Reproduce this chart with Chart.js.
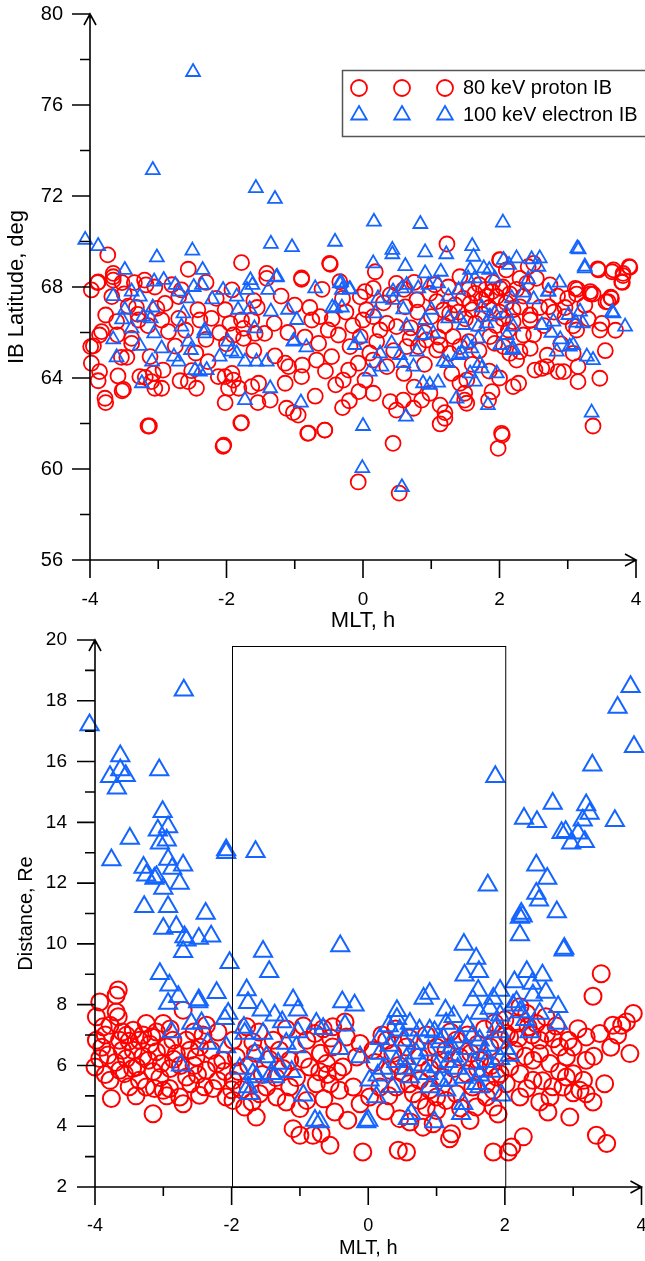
<!DOCTYPE html>
<html>
<head>
<meta charset="utf-8">
<script src="https://cdn.jsdelivr.net/npm/chart.js@4.4.1/dist/chart.umd.min.js"></script>
<style>
  html, body { margin: 0; padding: 0; background: #fff; }
  #topBox { position: absolute; left: 0; top: 0; width: 645px; height: 635px; }
  #bottomBox { position: absolute; left: 0; top: 605px; width: 645px; height: 656px; }
</style>
</head>
<body>
<div id="topBox"><canvas id="latChart"></canvas></div>
<div id="bottomBox"><canvas id="distChart"></canvas></div>
<script>
// Series labels
const seriesNames = ['80 keV proton IB', '100 keV electron IB'];

// Top panel: [MLT h, IB latitude deg]
const latProton = [
  [-3.74,69.41],[-3.98,67.87],[-3.89,68.19],[-3.66,68.6],[-3.66,68.45],[-3.53,68.19],[-3.35,68.19],[-3.18,68.09],
  [-2.56,68.78],[-1.78,69.07],[-1.41,68.6],[-1.41,68.38],[-0.9,68.34],[-0.49,69.04],[-0.34,68.23],[-0.04,67.57],
  [-3.77,66.77],[-3.68,67.58],[-3.61,66.48],[-3.44,67.16],[-3.32,67.1],[-3.29,66.55],[-3.02,67.06],[-2.9,67.28],
  [-2.95,66.55],[-2.7,66.62],[-2.7,67.58],[-2.66,67.87],[-2.42,67.0],[-2.39,66.55],[-2.22,66.62],[-1.92,67.87],
  [-2.02,67.0],[-1.95,66.4],[-1.78,66.55],[-1.75,66.18],[-1.63,66.55],[-1.44,65.96],[-1.29,64.97],[-1.14,64.65],
  [-1.09,64.5],[-0.89,64.57],[-0.68,64.79],[-0.46,64.94],[-0.29,63.91],[-0.21,64.35],[-0.07,64.65],[-0.06,63.4],
  [-0.04,65.82],[-0.19,65.38],[-0.36,65.89],[-0.51,66.11],[-0.63,66.7],[-0.78,67.1],[-0.75,66.55],[-0.65,65.52],
  [-0.9,64.06],[-1.14,63.77],[-1.36,63.03],[-1.54,62.92],[-2.02,62.92],[-1.92,64.2],[-1.9,63.91],[-1.97,63.55],
  [-1.82,63.55],[-1.63,63.62],[-1.53,63.77],[-1.78,62.04],[-1.12,62.67],[-1.02,62.48],[-0.95,62.37],[-0.81,61.57],
  [-0.56,61.71],[-2.04,61.05],[-3.15,61.89],[-3.78,63.11],[-3.77,62.92],[-3.88,63.88],[-3.86,64.28],[-3.98,64.65],
  [-3.99,65.38],[-3.86,65.89],[-3.83,66.04],[-3.95,65.41],[-3.59,64.09],[-3.51,63.5],[-3.53,63.44],[-3.54,64.91],
  [-3.46,64.91],[-3.19,64.03],[-3.27,64.06],[-3.1,63.84],[-3.05,63.55],[-2.95,63.55],[-2.93,64.35],[-3.07,64.2],
  [-2.68,63.88],[-2.56,63.84],[-2.44,63.55],[-2.51,64.32],[-2.27,64.72],[-2.85,66.04],[-3.12,64.94],[-3.39,65.74],
  [-3.39,65.52],[-2.02,64.06],[-2.12,64.06],[-2.1,65.99],[-1.9,65.89],[-1.58,65.96],[-1.75,65.74],
  [-3.88,68.22],[-3.66,68.3],[-3.2,68.3],[-3.05,68.0],[-2.8,68.1],[-2.3,68.2],[-2.15,67.5],[-1.6,67.4],
  [-1.2,67.6],[-1.0,67.2],[-0.6,67.9],[-0.3,67.5],[-0.9,68.4],[-3.5,67.7],[-3.3,66.8],[-3.15,66.3],
  [-2.6,66.1],[-2.3,65.7],[-2.0,65.5],[-1.3,66.4],[-1.1,66.0],[-0.85,65.8],[-1.6,65.2],[-2.45,65.1],
  [-2.75,65.4],[-3.6,65.9],[-1.55,67.1],[-0.45,66.6],[-0.25,66.9],
  [1.23,69.89],[0.18,68.67],[2.01,69.19],[2.42,68.89],[2.5,69.04],[3.45,68.75],[3.67,68.75],[3.91,68.86],
  [3.79,68.23],[3.81,68.6],[1.42,68.45],[2.1,68.75],[2.3,68.38],[2.4,68.16],[2.54,68.38],[2.74,68.09],
  [3.11,67.94],[3.13,67.69],[3.33,67.8],[3.37,67.69],[3.59,67.36],[3.64,67.5],[3.47,66.11],[3.13,66.11],
  [3.08,66.29],[2.96,67.1],[2.96,66.7],[2.72,67.13],[2.59,67.1],[2.45,66.55],[2.45,66.77],[2.3,67.13],
  [2.01,67.94],[1.96,67.58],[1.89,67.8],[1.81,67.58],[1.74,67.43],[1.64,67.72],[1.57,67.28],[1.47,67.5],
  [1.35,67.21],[1.27,66.84],[1.18,66.99],[1.08,67.36],[0.98,67.72],[0.79,67.43],[0.62,67.13],[0.4,67.65],
  [0.49,68.16],[0.15,67.94],[0.03,67.8],[0.05,67.0],[0.0,66.55],[0.15,66.7],[0.25,66.11],[0.35,66.4],
  [0.49,66.26],[0.69,65.74],[0.64,65.38],[0.81,65.38],[0.93,65.67],[1.13,65.45],[1.08,65.23],[1.27,65.08],
  [1.42,65.38],[1.32,65.82],[1.86,65.82],[1.93,65.52],[2.06,65.38],[2.15,65.08],[2.25,64.79],[2.3,65.16],
  [2.45,65.3],[2.35,65.89],[2.13,66.11],[2.2,66.48],[2.52,64.35],[2.62,64.42],[2.69,64.5],[2.86,64.28],
  [2.94,64.28],[3.15,64.5],[3.15,63.84],[3.47,63.99],[3.08,65.08],[0.15,64.79],[0.03,63.91],[0.15,63.33],
  [0.49,62.59],[0.74,62.67],[1.2,62.48],[1.2,62.23],[1.13,61.98],[0.4,62.96],[0.59,63.03],[0.86,63.03],
  [0.98,63.33],[1.42,63.77],[1.49,63.03],[1.52,62.89],[1.84,63.03],[1.89,63.4],[2.2,63.62],[2.28,63.77],
  [0.44,61.13],[2.03,61.57],[1.98,60.91],[1.52,63.91],[1.13,62.81],[1.49,63.33],
  [-0.48,69.0],[3.44,68.8],[3.65,68.67],[3.9,68.9],[3.8,68.2],[3.81,68.5],[3.14,67.9],[3.33,67.7],
  [3.56,67.35],[3.63,67.55],[2.0,69.2],
  [-0.07,59.43],[0.53,58.94],[2.04,61.49],[3.37,61.89],[-0.56,61.71],[-3.13,61.89],[-2.05,61.0],[-1.79,62.02],
  [-0.8,61.58],
  [1.55,67.9],[1.7,68.1],[1.8,67.9],[1.9,68.2],[2.05,68.0],[2.15,67.7],[2.25,67.9],[2.35,67.6],
  [1.6,67.0],[1.75,66.8],[1.85,67.1],[2.0,66.9],[2.1,67.3],[2.2,67.0],[1.4,66.9],[1.5,66.6],
  [1.65,66.4],[1.95,66.3],[2.05,66.6],[1.2,66.3],[1.0,66.7],[0.8,66.9],[0.7,66.2],[0.9,66.0],
  [1.1,65.8],[1.55,65.6],[1.7,65.2],[2.5,65.9],[2.65,66.3],[2.8,66.9],[2.85,67.6],[3.0,67.5],
  [3.25,67.2],[3.3,66.6],[3.5,66.4],[3.7,66.1],[3.55,65.2],[2.9,65.5],[2.7,65.0],[0.3,67.3],
  [0.6,67.9],[0.75,68.2],[1.05,68.1],[1.25,68.0],[0.2,65.6],[0.45,65.2],[0.1,65.1],[-0.15,66.3],
  [0.35,64.5],[0.6,64.2],[0.9,64.6],[1.3,64.2],[1.6,64.6],[1.85,64.3],[2.0,64.0],[0.75,63.6],
  [-0.2,63.0],[-0.4,63.7],[-0.55,64.3],[-0.7,63.2],[-0.3,62.7]
];

const latElectron = [
  [-4.25,69.98],[-4.07,70.07],[-3.88,69.8],[-4.2,68.2],[-2.49,77.45],[-3.08,73.14],[-1.57,72.35],[-1.29,71.87],
  [-3.02,69.3],[-2.5,69.6],[-2.35,68.75],[-3.49,68.75],[-1.35,69.9],[-1.04,69.75],[-1.26,68.45],[-0.41,69.99],
  [-3.66,67.6],[-3.06,68.24],[-2.92,68.31],[-3.39,67.8],[-3.27,67.58],[-2.75,68.09],[-2.48,68.0],[-2.36,68.09],
  [-2.7,67.8],[-2.57,67.5],[-2.21,67.46],[-2.05,67.87],[-1.85,67.58],[-1.65,68.3],[-1.62,68.09],[-1.7,67.87],
  [-1.39,67.87],[-1.27,68.42],[-0.7,67.94],[-0.34,68.16],[-0.19,67.9],[-0.31,67.1],[-0.41,67.06],[-3.49,67.0],
  [-3.08,67.1],[-3.53,66.58],[-3.39,66.18],[-3.22,66.7],[-3.11,66.62],[-3.06,65.96],[-2.63,66.84],[-2.66,66.26],
  [-2.7,64.72],[-2.33,65.96],[-2.32,66.1],[-2.56,65.6],[-2.52,65.23],[-2.46,64.35],[-2.39,64.28],[-2.29,64.35],
  [-3.66,65.7],[-3.61,64.91],[-3.27,65.41],[-3.24,63.77],[-2.95,65.3],[-3.09,64.72],[-2.77,64.94],[-2.1,64.94],
  [-1.98,65.6],[-1.93,65.16],[-1.85,65.08],[-1.73,64.72],[-1.56,64.72],[-1.41,64.72],[-1.83,67.0],[-1.66,67.02],
  [-1.59,66.18],[-1.35,66.92],[-1.1,67.0],[-0.97,66.55],[-1.01,65.64],[-1.02,65.6],[-0.83,65.35],[-1.36,63.55],
  [-1.73,63.03],[-0.91,62.92],[-0.12,65.45],[-0.45,67.1],[-0.31,67.87],[0.0,61.89],
  [0.16,70.87],[0.84,70.77],[2.05,70.83],[0.43,69.63],[0.43,69.44],[0.91,69.52],[1.22,69.44],[1.6,69.8],
  [1.62,69.33],[3.16,69.66],[0.15,69.04],[0.62,68.92],[2.06,69.19],[2.25,69.26],[2.47,69.22],[2.59,69.26],
  [2.57,68.89],[1.77,68.82],[1.85,68.75],[2.14,68.97],[0.91,68.6],[1.14,68.67],[1.57,68.75],[3.25,68.82],
  [2.88,68.19],[1.1,68.16],[0.44,67.8],[0.57,67.94],[0.64,68.09],[0.81,67.94],[0.96,68.09],[1.54,68.38],
  [1.64,68.38],[1.93,68.38],[2.42,68.34],[2.72,67.8],[0.22,67.5],[0.44,67.43],[1.25,67.58],[1.4,67.87],
  [2.18,67.5],[2.35,67.75],[2.5,67.46],[0.18,66.84],[0.59,67.02],[1.0,67.0],[1.25,66.62],[1.42,66.62],
  [1.74,67.1],[1.93,66.84],[2.1,66.84],[3.01,66.77],[3.18,66.92],[3.67,66.84],[3.84,66.26],[2.79,66.48],
  [2.62,66.33],[3.12,66.43],[3.22,66.4],[2.76,65.99],[0.64,66.29],[0.91,66.55],[1.03,65.96],[0.86,65.89],
  [1.47,66.33],[1.69,66.26],[1.81,66.4],[1.86,66.7],[2.2,66.26],[2.11,65.89],[1.52,65.52],[1.69,65.74],
  [1.59,65.3],[1.4,65.01],[1.45,65.08],[2.01,65.45],[2.18,65.23],[2.2,65.3],[2.84,65.16],[2.89,65.7],
  [3.03,65.38],[3.08,65.45],[3.28,64.94],[3.37,64.79],[0.25,65.08],[0.42,65.52],[0.54,65.01],[0.59,64.65],
  [0.74,64.5],[0.79,65.16],[1.24,64.65],[1.18,64.72],[1.71,64.65],[1.74,64.42],[1.96,64.2],[1.57,64.2],
  [1.64,63.84],[0.1,64.28],[0.27,64.5],[-0.04,65.74],[0.88,63.77],[0.98,63.7],[1.1,63.8],[1.37,63.1],
  [1.83,62.81],[0.63,62.3],[3.35,62.48],
  [-0.32,68.2],[-0.2,67.9],[3.65,66.9],[2.71,67.8],[3.14,69.7],[3.25,68.9],
  [-0.01,60.04],[0.57,59.2]
];

// Bottom panel: [MLT h, distance Re]
const distProton = [
  [-3.93,8.09],[-3.66,8.48],[-3.69,8.31],[-3.98,7.6],[-3.78,7.32],[-3.69,7.76],[-3.66,7.6],[-2.71,7.82],
  [-4.0,5.95],[-3.93,6.23],[-3.81,6.34],[-3.78,5.51],[-3.76,4.91],[-3.15,4.41],[-3.64,6.83],[-3.54,6.99],
  [-3.44,7.16],[-3.35,6.83],[-3.25,7.38],[-3.17,6.94],[-3.1,7.1],[-3.0,7.38],[-3.44,6.5],[-3.54,6.23],
  [-3.64,5.84],[-3.57,5.73],[-3.39,5.95],[-3.35,5.51],[-3.25,5.29],[-3.13,5.24],[-3.0,5.18],[-2.91,5.24],
  [-2.76,4.96],[-2.71,4.74],[-2.47,5.02],[-2.27,5.24],[-3.22,6.17],[-3.1,6.45],[-3.03,6.06],[-2.95,6.61],
  [-2.81,6.39],[-2.66,6.83],[-2.61,6.5],[-2.52,6.28],[-2.47,6.61],[-2.37,5.84],[-2.37,7.32],[-2.22,6.06],
  [-2.13,6.17],[-2.08,4.96],[-1.98,4.85],[-1.98,5.51],[-1.93,6.28],[-1.81,4.63],[-1.64,4.3],[-1.59,5.07],
  [-1.49,5.29],[-1.34,4.96],[-1.15,5.29],[-1.1,3.92],[-1.0,3.7],[-0.81,3.7],[-1.0,4.58],[-0.9,4.85],
  [-1.3,6.5],[-1.39,6.83],[-1.69,6.77],[-1.78,7.27],[-1.98,6.83],[-1.15,6.17],[-0.9,6.83],[-0.86,5.95],
  [-0.76,5.4],[-0.78,7.05],[-3.98,6.83],[-3.88,7.27],[-2.66,5.62],[-2.42,7.0],[-2.86,6.83],
  [-3.9,6.6],[-3.85,5.7],[-3.7,6.1],[-3.6,6.5],[-3.5,6.8],[-3.45,5.9],[-3.3,6.3],[-3.2,6.7],
  [-3.15,5.8],[-3.05,5.6],[-2.9,5.9],[-2.85,6.2],[-2.75,6.0],[-2.6,5.4],[-2.55,6.0],[-2.5,5.7],
  [-2.3,6.5],[-2.2,5.5],[-2.1,5.8],[-1.9,5.8],[-1.85,5.2],[-1.75,6.0],[-1.65,6.4],[-1.55,5.7],
  [-1.45,6.2],[-1.35,5.6],[-1.25,5.9],[-1.2,4.8],[-1.05,5.6],[-0.95,6.2],[-0.7,6.4],[-0.6,5.7],
  [-0.55,6.9],[-0.65,4.9],[-3.3,7.0],[-3.6,7.1],[-3.85,7.0],[-2.9,7.2],[-2.55,7.1],[-2.2,7.1],
  [-1.6,7.1],[-1.2,7.2],[-0.95,7.3],[-3.5,5.3],[-3.4,5.0],[-2.95,5.0],[-2.4,5.3],[-2.0,5.2],[-1.7,4.8],
  [3.41,9.02],[3.29,8.28],[3.88,7.71],[3.78,7.43],[3.71,7.32],[3.83,6.39],[3.58,7.32],[3.39,7.05],
  [3.07,7.21],[3.19,6.94],[2.93,6.83],[2.8,6.61],[2.71,6.88],[2.51,6.83],[2.34,7.27],[2.22,7.93],
  [2.32,7.71],[2.46,7.38],[2.17,7.38],[2.07,6.94],[2.14,6.5],[2.41,6.17],[2.66,6.06],[2.8,5.79],
  [2.9,5.62],[3.0,5.73],[3.15,5.51],[3.1,5.18],[3.29,4.8],[3.46,5.4],[3.19,5.07],[2.85,5.29],
  [2.66,4.96],[2.51,4.8],[2.63,4.47],[2.95,4.3],[2.27,3.65],[2.1,3.32],[2.05,3.15],[1.83,3.15],
  [3.34,3.7],[3.49,3.43],[2.22,4.96],[2.32,5.24],[2.02,5.4],[1.93,5.73],[1.83,5.18],[1.73,4.96],
  [1.83,4.63],[1.58,4.63],[1.49,4.19],[1.22,3.75],[1.19,3.59],[0.95,4.08],[0.8,3.97],[0.61,4.14],
  [0.46,4.25],[0.56,3.15],[0.44,3.21],[-0.08,3.15],[-0.56,3.37],[-0.49,4.47],[-0.69,3.76],[-0.12,4.74],
  [0.02,4.96],[0.17,5.29],[-0.22,5.29],[-0.42,5.18],[-0.56,5.4],[-0.71,5.79],[-0.61,6.06],[-0.37,5.95],
  [-0.17,6.28],[-0.52,6.61],[-0.32,6.94],[-0.66,7.21],[-0.52,7.27],[-0.34,7.43],[-0.12,6.72],[0.07,6.5],
  [0.27,6.83],[0.36,6.39],[0.31,5.84],[0.51,5.73],[0.41,5.29],[0.66,5.07],[0.75,4.85],[0.85,4.63],
  [1.0,4.96],[0.75,5.51],[0.56,6.61],[0.75,6.28],[1.05,6.17],[1.14,6.5],[1.29,6.83],[1.34,6.28],
  [1.44,5.73],[1.53,5.29],[1.29,5.07],[1.14,4.85],[1.0,4.52],[1.73,5.4],[1.88,5.62],[1.63,6.17],
  [1.78,6.61],[2.02,7.05],[1.93,6.83],[2.07,5.95],[2.22,5.73],[2.41,5.51],[2.51,6.39],[2.61,7.05],
  [2.9,6.28],[3.19,6.17],[3.0,6.61],
  [0.1,6.1],[0.2,7.0],[0.4,7.2],[0.6,6.9],[0.85,7.0],[1.0,6.6],[1.2,7.1],[1.45,7.0],
  [1.6,6.7],[1.7,7.2],[1.85,7.4],[2.0,7.5],[1.5,6.4],[1.25,5.9],[1.1,5.6],[0.9,5.9],
  [0.6,5.4],[0.3,5.0],[1.6,5.9],[1.8,6.0],[2.2,6.9],[2.4,7.0],[2.6,7.6],[2.75,7.3],
  [2.55,5.5],[2.7,5.3],[3.0,5.1],[3.3,6.3],[3.55,6.6],[3.65,7.0],[2.3,6.3],[1.9,4.4],
  [1.35,4.6],[0.9,5.2],[0.25,4.5],[-0.3,4.2],[-0.45,5.8],[0.45,6.0]
];

const distElectron = [
  [-4.08,17.2],[-3.63,16.18],[-3.78,15.5],[-3.63,15.72],[-3.55,15.53],[-3.68,15.12],[-3.06,15.72],[-3.49,13.47],
  [-3.76,12.76],[-3.01,14.35],[-3.08,13.74],[-2.93,13.85],[-3.05,13.31],[-2.95,13.41],[-2.93,12.78],[-2.71,12.59],
  [-2.87,12.48],[-3.29,12.51],[-3.25,12.26],[-3.13,12.15],[-3.1,12.2],[-3.0,11.82],[-2.76,11.99],[-3.28,11.22],
  [-2.93,11.22],[-2.38,11.0],[-3.0,10.51],[-2.81,10.56],[-2.69,10.23],[-2.66,10.12],[-2.48,10.18],[-2.3,10.25],
  [-2.7,18.35],[-2.08,13.09],[-2.08,13.0],[-1.65,13.03],[-1.54,9.75],
  [-2.71,9.74],[-3.05,9.02],[-2.91,8.64],[-2.78,8.26],[-2.93,8.04],[-2.49,8.09],[-2.48,8.15],[-2.22,8.39],
  [-2.03,9.38],[-1.45,9.08],[-1.78,8.48],[-1.76,8.06],[-2.05,7.71],[-2.1,7.54],[-1.56,7.82],[-1.37,7.65],
  [-1.26,7.43],[-1.1,8.15],[-1.03,7.82],[-0.76,7.38],[-2.88,7.1],[-2.59,7.38],[-2.44,7.4],[-2.35,6.72],
  [-2.74,6.01],[-2.08,6.61],[-1.82,7.25],[-1.81,7.05],[-1.54,7.05],[-1.66,6.39],[-1.49,6.28],[-1.88,5.9],
  [-1.69,5.73],[-1.76,5.29],[-1.74,5.07],[-1.64,5.62],[-1.42,5.73],[-1.37,5.62],[-1.32,6.06],[-1.12,5.79],
  [-1.2,6.72],[-1.05,6.61],[-1.03,7.1],[-0.95,5.02],[-0.78,4.19],
  [-0.41,9.93],[1.4,9.98],[2.86,9.79],[1.58,9.52],[1.41,8.97],[1.62,9.08],[2.32,9.08],[2.55,8.97],
  [1.61,8.47],[1.93,8.47],[2.14,8.75],[0.9,8.37],[0.81,8.2],[1.53,8.15],[1.83,8.2],[2.12,7.98],
  [2.17,8.09],[2.41,8.31],[2.78,7.93],[-0.38,8.09],[-0.2,7.98],[0.42,7.8],[0.42,7.54],[1.13,7.82],
  [1.63,7.71],[1.78,7.87],[1.93,7.65],[2.22,7.76],[2.51,7.71],[2.78,7.38],[2.36,7.1],[-0.66,7.21],
  [-0.34,7.32],[0.61,7.38],[0.46,7.16],[0.75,7.16],[0.97,7.1],[0.9,7.16],[1.14,7.38],[1.34,6.94],
  [1.53,6.99],[1.63,6.83],[1.88,7.27],[1.93,7.1],[0.17,6.88],[0.31,6.66],[0.51,6.83],[0.71,6.72],
  [0.88,6.5],[1.05,6.77],[1.22,6.61],[1.44,6.55],[1.75,6.66],[2.02,6.55],[2.07,6.33],[-0.42,6.55],
  [-0.12,6.28],[0.17,6.39],[0.41,6.12],[0.56,6.22],[0.8,6.01],[1.0,5.95],[1.17,6.12],[1.31,5.9],
  [1.51,6.06],[1.73,6.12],[1.93,6.22],[0.22,5.9],[0.14,5.68],[0.02,5.51],[0.61,5.62],[0.88,5.73],
  [1.17,5.51],[1.63,5.68],[1.58,5.4],[1.63,5.29],[0.9,5.29],[1.14,5.18],[0.12,4.96],[1.95,5.02],
  [1.39,4.74],[1.36,4.41],[0.63,4.41],[0.58,4.25],[0.97,4.14],[0.0,4.19],[-0.03,4.14],[-0.71,4.14],
  [3.84,18.46],[3.65,17.78],[3.89,16.49],[3.28,15.88],[1.86,15.5],[2.7,14.62],[3.19,14.57],[3.24,14.29],
  [3.14,14.07],[2.28,14.13],[2.47,14.02],[3.61,14.05],[2.83,13.66],[2.89,13.69],[3.07,13.64],[2.97,13.31],
  [3.17,13.36],[2.46,12.59],[2.62,12.15],[2.46,11.66],[2.5,11.44],[2.76,11.05],[1.75,11.93],[2.24,11.0],
  [2.22,10.87],[2.26,10.91],[2.22,10.29],[2.87,9.85],
  [0.3,7.3],[0.7,6.4],[1.1,6.9],[1.45,7.3],[1.7,6.4],[1.25,6.3],[0.55,5.9],[1.4,5.6],
  [1.8,5.8],[0.35,5.3],[1.05,5.5],[1.25,7.6],[2.3,7.5],[2.6,8.4],[2.4,8.7]
];

// Axis ranges and the night-sector frame of the lower panel
const mltRange = [-4, 4];
const latRange = [56, 80];
const distRange = [2, 20];
const frameBox = [-2, 2, 2, 19.8]; // MLT from, MLT to, Re from, Re to

const FONT = 'Arial, "Liberation Sans", Helvetica, sans-serif';
const RED = 'rgb(255,0,0)';
const BLUE = 'rgb(20,100,255)';

function toPoints(pairs) {
  return pairs.map(p => ({ x: p[0], y: p[1] }));
}

// keep the chart area exactly where the layout padding puts it
function noScalePadding(s) {
  s.paddingTop = 0;
  s.paddingBottom = 0;
  s.paddingLeft = 0;
  s.paddingRight = 0;
}

// axis lines with arrow heads, major / minor ticks and the frame box
const axesPlugin = {
  id: 'arrowAxes',
  afterDatasetsDraw(chart, args, opts) {
    const ctx = chart.ctx;
    const xs = chart.scales.x, ys = chart.scales.y;
    const a = chart.chartArea;
    ctx.save();
    ctx.strokeStyle = '#000';
    if (opts.box) {
      const l = xs.getPixelForValue(opts.box[0]);
      const r = xs.getPixelForValue(opts.box[1]);
      const b = ys.getPixelForValue(opts.box[2]);
      const t = ys.getPixelForValue(opts.box[3]);
      ctx.lineWidth = 1;
      ctx.strokeRect(Math.round(l) + 0.5, Math.round(t) + 0.5, r - l, b - t);
    }
    ctx.lineWidth = 1.6;
    ctx.beginPath();
    ctx.moveTo(a.left, a.bottom);
    ctx.lineTo(a.left, a.top);
    ctx.moveTo(a.left, a.bottom);
    ctx.lineTo(a.right, a.bottom);
    // arrow heads
    ctx.moveTo(a.left - 6, a.top + 11);
    ctx.lineTo(a.left, a.top);
    ctx.lineTo(a.left + 6, a.top + 11);
    ctx.moveTo(a.right - 11, a.bottom - 6);
    ctx.lineTo(a.right, a.bottom);
    ctx.lineTo(a.right - 11, a.bottom + 6);
    // ticks
    ys.ticks.forEach(t => {
      const y = ys.getPixelForValue(t.value);
      const len = (t.value % opts.yMajor === 0) ? 18 : 10;
      ctx.moveTo(a.left - len, y);
      ctx.lineTo(a.left, y);
    });
    xs.ticks.forEach(t => {
      const x = xs.getPixelForValue(t.value);
      const len = (t.value % 2 === 0) ? 18 : 9;
      ctx.moveTo(x, a.bottom);
      ctx.lineTo(x, a.bottom + len);
    });
    ctx.stroke();
    ctx.restore();
  }
};

// boxed legend with three markers per row, as in the original figure
const legendPlugin = {
  id: 'tripleLegend',
  afterDraw(chart, args, opts) {
    if (!opts.show) return;
    const ctx = chart.ctx;
    ctx.save();
    ctx.strokeStyle = '#555';
    ctx.lineWidth = 1.5;
    ctx.strokeRect(342.5, 70.5, 330, 66);
    const rows = [
      { y: 88, style: 'circle', color: RED, r: 8, text: seriesNames[0] },
      { y: 115, style: 'triangle', color: BLUE, r: 9, text: seriesNames[1] }
    ];
    rows.forEach(row => {
      [359, 402, 445].forEach(x => {
        ctx.strokeStyle = row.color;
        ctx.fillStyle = 'rgba(0,0,0,0)';
        ctx.lineWidth = 1.8;
        Chart.helpers.drawPoint(ctx, { pointStyle: row.style, radius: row.r, borderWidth: 1.8, rotation: 0 }, x, row.y);
      });
      ctx.fillStyle = '#000';
      ctx.font = '20px ' + FONT;
      ctx.textBaseline = 'middle';
      ctx.textAlign = 'left';
      ctx.fillText(row.text, 463, row.y);
    });
    ctx.restore();
  }
};

function scatterSet(label, pairs, color, style, r, lw, order) {
  return {
    label: label,
    data: toPoints(pairs),
    pointStyle: style,
    pointRadius: r,
    pointHoverRadius: r,
    pointBorderWidth: lw,
    borderColor: color,
    backgroundColor: 'rgba(0,0,0,0)',
    pointBackgroundColor: 'rgba(0,0,0,0)',
    showLine: false,
    clip: false,
    order: order
  };
}

function buildChart(id, o) {
  return new Chart(document.getElementById(id).getContext('2d'), {
    type: 'scatter',
    data: {
      datasets: [
        scatterSet(seriesNames[1], o.electron, BLUE, 'triangle', o.triR, o.markLw, 0),
        scatterSet(seriesNames[0], o.proton, RED, 'circle', o.circR, o.markLw, 1)
      ]
    },
    options: {
      responsive: true,
      maintainAspectRatio: false,
      animation: false,
      events: [],
      layout: { autoPadding: false, padding: o.padding },
      plugins: {
        legend: { display: false },
        tooltip: { enabled: false },
        arrowAxes: { box: o.box, yMajor: o.yMajor },
        tripleLegend: { show: o.legend }
      },
      scales: {
        x: {
          type: 'linear',
          min: mltRange[0],
          max: mltRange[1],
          grid: { display: false, drawTicks: false },
          border: { display: false },
          ticks: {
            stepSize: 1,
            autoSkip: false,
            maxRotation: 0,
            padding: o.xPad,
            color: '#000',
            font: { family: FONT, size: o.xTickSize, lineHeight: 1 },
            callback: v => (v % 2 === 0 ? String(v) : '')
          },
          title: {
            display: true,
            text: 'MLT, h',
            color: '#000',
            font: { family: FONT, size: o.titleSize, lineHeight: 1 },
            padding: { top: 0, bottom: 3 }
          },
          afterFit: s => { s.height = o.xHeight; noScalePadding(s); }
        },
        y: {
          type: 'linear',
          min: o.yRange[0],
          max: o.yRange[1],
          grid: { display: false, drawTicks: false },
          border: { display: false },
          ticks: {
            stepSize: o.yMajor / 2,
            autoSkip: false,
            padding: o.yPad,
            color: '#000',
            font: { family: FONT, size: o.yTickSize, lineHeight: 1 },
            callback: v => (v % o.yMajor === 0 ? String(v) : '')
          },
          title: {
            display: true,
            text: o.yTitle,
            color: '#000',
            font: { family: FONT, size: o.yTitleSize, lineHeight: 1 },
            padding: { top: o.yTitlePad, bottom: 0 }
          },
          afterFit: s => { s.width = o.yWidth; noScalePadding(s); }
        }
      }
    },
    plugins: [axesPlugin, legendPlugin]
  });
}

buildChart('latChart', {
  proton: latProton,
  electron: latElectron,
  circR: 7.5,
  triR: 8,
  markLw: 1.8,
  yRange: latRange,
  yMajor: 4,
  yTitle: 'IB Latitude, deg',
  yTitleSize: 22,
  yTitlePad: 6,
  titleSize: 22,
  xTickSize: 19,
  yTickSize: 20,
  xPad: 30.5,
  yPad: 27,
  xHeight: 75,
  yWidth: 90,
  padding: { left: 0, top: 14, right: 9, bottom: 0 },
  box: null,
  legend: true
});

buildChart('distChart', {
  proton: distProton,
  electron: distElectron,
  circR: 8.5,
  triR: 10.5,
  markLw: 2,
  yRange: distRange,
  yMajor: 2,
  yTitle: 'Distance, Re',
  yTitleSize: 20,
  yTitlePad: 16,
  titleSize: 20,
  xTickSize: 18,
  yTickSize: 19,
  xPad: 30.5,
  yPad: 28,
  xHeight: 74,
  yWidth: 95,
  padding: { left: 0, top: 35, right: 3.5, bottom: 0 },
  box: frameBox,
  legend: false
});
</script>
</body>
</html>
